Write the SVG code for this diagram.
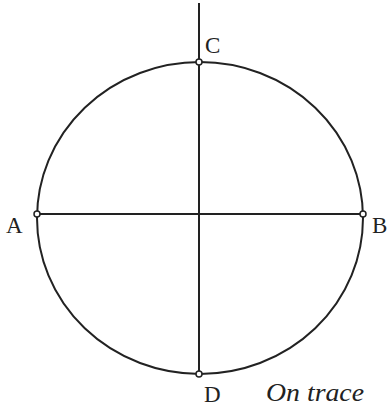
<svg xmlns="http://www.w3.org/2000/svg" width="391" height="408" viewBox="0 0 391 408">
<style>
.ln{fill:none;stroke:#222;stroke-width:2}
.pt{fill:#fff;stroke:#222;stroke-width:1.5}
.lb{font-family:"Liberation Serif",serif;font-size:23px;fill:#222}
.it{font-family:"Liberation Serif",serif;font-style:italic;font-size:25px;fill:#222}
</style>
<rect width="391" height="408" fill="#fff"/>
<g id="circle"><ellipse class="ln" cx="200" cy="218" rx="163" ry="156"/></g>
<g id="connectors">
<line class="ln" x1="37" y1="214" x2="363" y2="214"/>
<line class="ln" x1="199" y1="3" x2="199" y2="374"/>
</g>
<g id="A"><circle class="pt" cx="37" cy="214" r="3"/><text class="lb" x="6" y="233">A</text></g>
<g id="B"><circle class="pt" cx="363" cy="214" r="3"/><text class="lb" x="372" y="233">B</text></g>
<g id="C"><circle class="pt" cx="199" cy="62" r="3"/><text class="lb" x="205" y="53">C</text></g>
<g id="D"><circle class="pt" cx="199" cy="374" r="3"/><text class="lb" x="204" y="402">D</text></g>
<text class="it" x="266" y="401" textLength="98" lengthAdjust="spacingAndGlyphs">On trace</text>
</svg>
